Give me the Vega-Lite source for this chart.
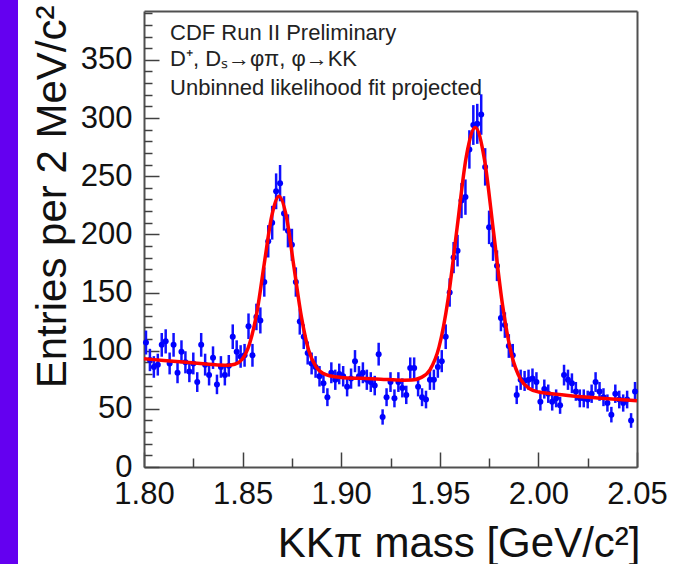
{
 "$schema": "https://vega.github.io/schema/vega-lite/v6.json",
 "width": 493,
 "height": 456,
 "autosize": "none",
 "padding": {"left": 144, "top": 11, "right": 44, "bottom": 97},
 "background": "#6400f0",
 "config": {
  "view": {"fill": "white", "stroke": "white", "strokeWidth": 252},
  "font": "Liberation Sans",
  "axis": {"grid": false, "domainColor": "#505050", "domainWidth": 2, "tickColor": "#404040", "tickWidth": 1.5, "labelColor": "#111111", "labelFont": "Liberation Sans", "titleFont": "Liberation Sans", "titleColor": "#111111", "titleFontWeight": "normal"}
 },
 "datasets": {
  "pts": [
   {"m":1.801,"n":107,"e":10.3},{"m":1.803,"n":92,"e":9.6},{"m":1.805,"n":86,"e":9.3},{"m":1.807,"n":88,"e":9.4},{"m":1.809,"n":105,"e":10.2},
   {"m":1.811,"n":108,"e":10.4},{"m":1.813,"n":89,"e":9.4},{"m":1.815,"n":105,"e":10.2},{"m":1.817,"n":81,"e":9.0},{"m":1.819,"n":99,"e":9.9},
   {"m":1.821,"n":90,"e":9.5},{"m":1.823,"n":82,"e":9.1},{"m":1.825,"n":89,"e":9.4},{"m":1.827,"n":73,"e":8.5},{"m":1.829,"n":105,"e":10.2},
   {"m":1.831,"n":88,"e":9.4},{"m":1.833,"n":79,"e":8.9},{"m":1.835,"n":94,"e":9.7},{"m":1.837,"n":71,"e":8.4},{"m":1.839,"n":86,"e":9.3},
   {"m":1.841,"n":79,"e":8.9},{"m":1.843,"n":87,"e":9.3},{"m":1.845,"n":112,"e":10.6},{"m":1.847,"n":99,"e":9.9},{"m":1.849,"n":95,"e":9.7},
   {"m":1.851,"n":96,"e":9.8},{"m":1.853,"n":121,"e":11.0},{"m":1.855,"n":96,"e":9.8},{"m":1.857,"n":129,"e":11.4},{"m":1.859,"n":126,"e":11.2},
   {"m":1.861,"n":159,"e":12.6},{"m":1.863,"n":194,"e":13.9},{"m":1.865,"n":210,"e":14.5},{"m":1.867,"n":237,"e":15.4},{"m":1.869,"n":244,"e":15.6},
   {"m":1.871,"n":218,"e":14.8},{"m":1.873,"n":203,"e":14.2},{"m":1.875,"n":191,"e":13.8},{"m":1.877,"n":159,"e":12.6},{"m":1.879,"n":125,"e":11.2},
   {"m":1.881,"n":112,"e":10.6},{"m":1.883,"n":98,"e":9.9},{"m":1.885,"n":89,"e":9.4},{"m":1.887,"n":86,"e":9.3},{"m":1.889,"n":78,"e":8.8},
   {"m":1.891,"n":72,"e":8.5},{"m":1.893,"n":60,"e":7.7},{"m":1.895,"n":81,"e":9.0},{"m":1.897,"n":75,"e":8.7},{"m":1.899,"n":80,"e":8.9},
   {"m":1.901,"n":78,"e":8.8},{"m":1.903,"n":69,"e":8.3},{"m":1.905,"n":76,"e":8.7},{"m":1.907,"n":91,"e":9.5},{"m":1.909,"n":78,"e":8.8},
   {"m":1.911,"n":81,"e":9.0},{"m":1.913,"n":75,"e":8.7},{"m":1.915,"n":73,"e":8.5},{"m":1.917,"n":70,"e":8.4},{"m":1.919,"n":97,"e":9.8},
   {"m":1.921,"n":43,"e":6.6},{"m":1.923,"n":60,"e":7.7},{"m":1.925,"n":73,"e":8.5},{"m":1.927,"n":59,"e":7.7},{"m":1.929,"n":73,"e":8.5},
   {"m":1.931,"n":68,"e":8.2},{"m":1.933,"n":62,"e":7.9},{"m":1.935,"n":85,"e":9.2},{"m":1.937,"n":85,"e":9.2},{"m":1.939,"n":69,"e":8.3},
   {"m":1.941,"n":60,"e":7.7},{"m":1.943,"n":58,"e":7.6},{"m":1.945,"n":75,"e":8.7},{"m":1.947,"n":75,"e":8.7},{"m":1.949,"n":86,"e":9.3},
   {"m":1.951,"n":91,"e":9.5},{"m":1.953,"n":112,"e":10.6},{"m":1.955,"n":150,"e":12.2},{"m":1.957,"n":180,"e":13.4},{"m":1.959,"n":186,"e":13.6},
   {"m":1.961,"n":229,"e":15.1},{"m":1.963,"n":232,"e":15.2},{"m":1.965,"n":273,"e":16.5},{"m":1.967,"n":294,"e":17.1},{"m":1.969,"n":295,"e":17.2},
   {"m":1.971,"n":303,"e":17.4},{"m":1.973,"n":258,"e":16.1},{"m":1.975,"n":206,"e":14.4},{"m":1.977,"n":191,"e":13.8},{"m":1.979,"n":173,"e":13.2},
   {"m":1.981,"n":128,"e":11.3},{"m":1.983,"n":122,"e":11.0},{"m":1.985,"n":104,"e":10.2},{"m":1.987,"n":96,"e":9.8},{"m":1.989,"n":62,"e":7.9},
   {"m":1.991,"n":75,"e":8.7},{"m":1.993,"n":74,"e":8.6},{"m":1.995,"n":75,"e":8.7},{"m":1.997,"n":76,"e":8.7},{"m":1.999,"n":73,"e":8.5},
   {"m":2.001,"n":56,"e":7.5},{"m":2.003,"n":67,"e":8.2},{"m":2.005,"n":63,"e":7.9},{"m":2.007,"n":56,"e":7.5},{"m":2.009,"n":59,"e":7.7},
   {"m":2.011,"n":53,"e":7.3},{"m":2.013,"n":79,"e":8.9},{"m":2.015,"n":75,"e":8.7},{"m":2.017,"n":72,"e":8.5},{"m":2.019,"n":65,"e":8.1},
   {"m":2.021,"n":59,"e":7.7},{"m":2.023,"n":59,"e":7.7},{"m":2.025,"n":58,"e":7.6},{"m":2.027,"n":63,"e":7.9},{"m":2.029,"n":73,"e":8.5},
   {"m":2.031,"n":65,"e":8.1},{"m":2.033,"n":60,"e":7.7},{"m":2.035,"n":55,"e":7.4},{"m":2.037,"n":45,"e":6.7},{"m":2.039,"n":63,"e":7.9},
   {"m":2.041,"n":58,"e":7.6},{"m":2.043,"n":55,"e":7.4},{"m":2.045,"n":58,"e":7.6},{"m":2.047,"n":40,"e":6.3},{"m":2.049,"n":65,"e":8.1}
  ],
  "fit": [
   {"m":1.8,"f":93.0},{"m":1.81,"f":91.6},{"m":1.82,"f":90.2},{"m":1.83,"f":88.8},{"m":1.8385,"f":87.6},{"m":1.8423,"f":87.4},
   {"m":1.846,"f":88.3},{"m":1.8498,"f":92.6},{"m":1.8535,"f":105.7},{"m":1.8573,"f":133.4},{"m":1.861,"f":175.0},{"m":1.8648,"f":215.8},
   {"m":1.8685,"f":232.7},{"m":1.8723,"f":214.4},{"m":1.876,"f":172.3},{"m":1.8798,"f":129.3},{"m":1.8835,"f":100.3},{"m":1.8873,"f":85.9},
   {"m":1.891,"f":80.3},{"m":1.8948,"f":78.2},{"m":1.9,"f":77.0},{"m":1.91,"f":76.2},{"m":1.92,"f":75.5},{"m":1.9312,"f":74.6},
   {"m":1.9358,"f":74.7},{"m":1.9404,"f":76.8},{"m":1.945,"f":83.5},{"m":1.9496,"f":103.0},{"m":1.9542,"f":144.3},{"m":1.9588,"f":206.0},
   {"m":1.9634,"f":266.5},{"m":1.968,"f":291.9},{"m":1.9726,"f":264.9},{"m":1.9772,"f":202.8},{"m":1.9818,"f":139.4},{"m":1.9864,"f":96.5},
   {"m":1.991,"f":75.3},{"m":1.9956,"f":67.3},{"m":2.0002,"f":64.5},{"m":2.0048,"f":63.4},{"m":2.015,"f":61.5},{"m":2.03,"f":59.4},{"m":2.05,"f":57.0}
  ],
  "txt": [
   {"m":1.8132,"v":373,"t":"CDF Run II Preliminary"},
   {"m":1.8132,"v":351,"t":"D⁺, Dₛ→φπ, φ→KK"},
   {"m":1.8132,"v":326,"t":"Unbinned likelihood fit projected"}
  ]
 },
 "resolve": {"axis": {"x": "independent", "y": "independent"}},
 "layer": [
  {
   "data": {"name": "pts"},
   "mark": {"type": "errorbar", "ticks": false, "color": "#1010ff", "thickness": 2.5},
   "encoding": {
    "x": {"field": "m", "type": "quantitative", "scale": {"domain": [1.8, 2.05], "nice": false, "zero": false},
     "axis": {"orient": "bottom", "values": [1.8, 1.85, 1.9, 1.95, 2.0, 2.05], "format": ".2f", "tickSize": -15, "labelFontSize": 31, "labelPadding": 27, "labelFlush": false,
      "title": "KKπ mass [GeV/c²]", "titleFontSize": 42, "titleAnchor": "end", "titleAlign": "right", "titleBaseline": "alphabetic", "titleY": 89, "titleX": 496}},
    "y": {"field": "n", "type": "quantitative", "scale": {"domain": [0, 392], "nice": false},
     "axis": {"orient": "left", "values": [0, 50, 100, 150, 200, 250, 300, 350], "tickSize": -15, "labelFontSize": 31, "labelPadding": 27,
      "title": "Entries per 2 MeV/c²", "titleFontSize": 42, "titleAnchor": "end", "titleAlign": "right", "titleAngle": -90, "titleBaseline": "alphabetic", "titleX": -79, "titleY": -6}},
    "yError": {"field": "e"}
   }
  },
  {
   "data": {"name": "pts"},
   "mark": {"type": "point", "shape": "circle", "filled": true, "size": 36, "color": "#0000ff", "opacity": 1},
   "encoding": {
    "x": {"field": "m", "type": "quantitative", "scale": {"domain": [1.8, 2.05], "nice": false, "zero": false},
     "axis": {"orient": "bottom", "values": [1.825, 1.875, 1.925, 1.975, 2.025], "tickSize": -9, "labels": false, "domain": false, "title": null}},
    "y": {"field": "n", "type": "quantitative", "scale": {"domain": [0, 392], "nice": false},
     "axis": {"orient": "left", "values": [10,20,30,40,60,70,80,90,110,120,130,140,160,170,180,190,210,220,230,240,260,270,280,290,310,320,330,340,360,370,380,390], "tickSize": -8, "labels": false, "domain": false, "title": null}}
   }
  },
  {
   "data": {"name": "fit"},
   "mark": {"type": "line", "color": "#ff0000", "strokeWidth": 3.5, "interpolate": "monotone"},
   "encoding": {
    "x": {"field": "m", "type": "quantitative", "scale": {"domain": [1.8, 2.05], "nice": false, "zero": false},
     "axis": {"orient": "top", "ticks": false, "labels": false, "title": null}},
    "y": {"field": "f", "type": "quantitative", "scale": {"domain": [0, 392], "nice": false},
     "axis": {"orient": "right", "ticks": false, "labels": false, "title": null}}
   }
  },
  {
   "data": {"name": "txt"},
   "mark": {"type": "text", "align": "left", "baseline": "middle", "fontSize": 22, "font": "Liberation Sans", "color": "#222222"},
   "encoding": {
    "x": {"field": "m", "type": "quantitative", "scale": {"domain": [1.8, 2.05], "nice": false, "zero": false}, "axis": null},
    "y": {"field": "v", "type": "quantitative", "scale": {"domain": [0, 392], "nice": false}, "axis": null},
    "text": {"field": "t"}
   }
  }
 ]
}
